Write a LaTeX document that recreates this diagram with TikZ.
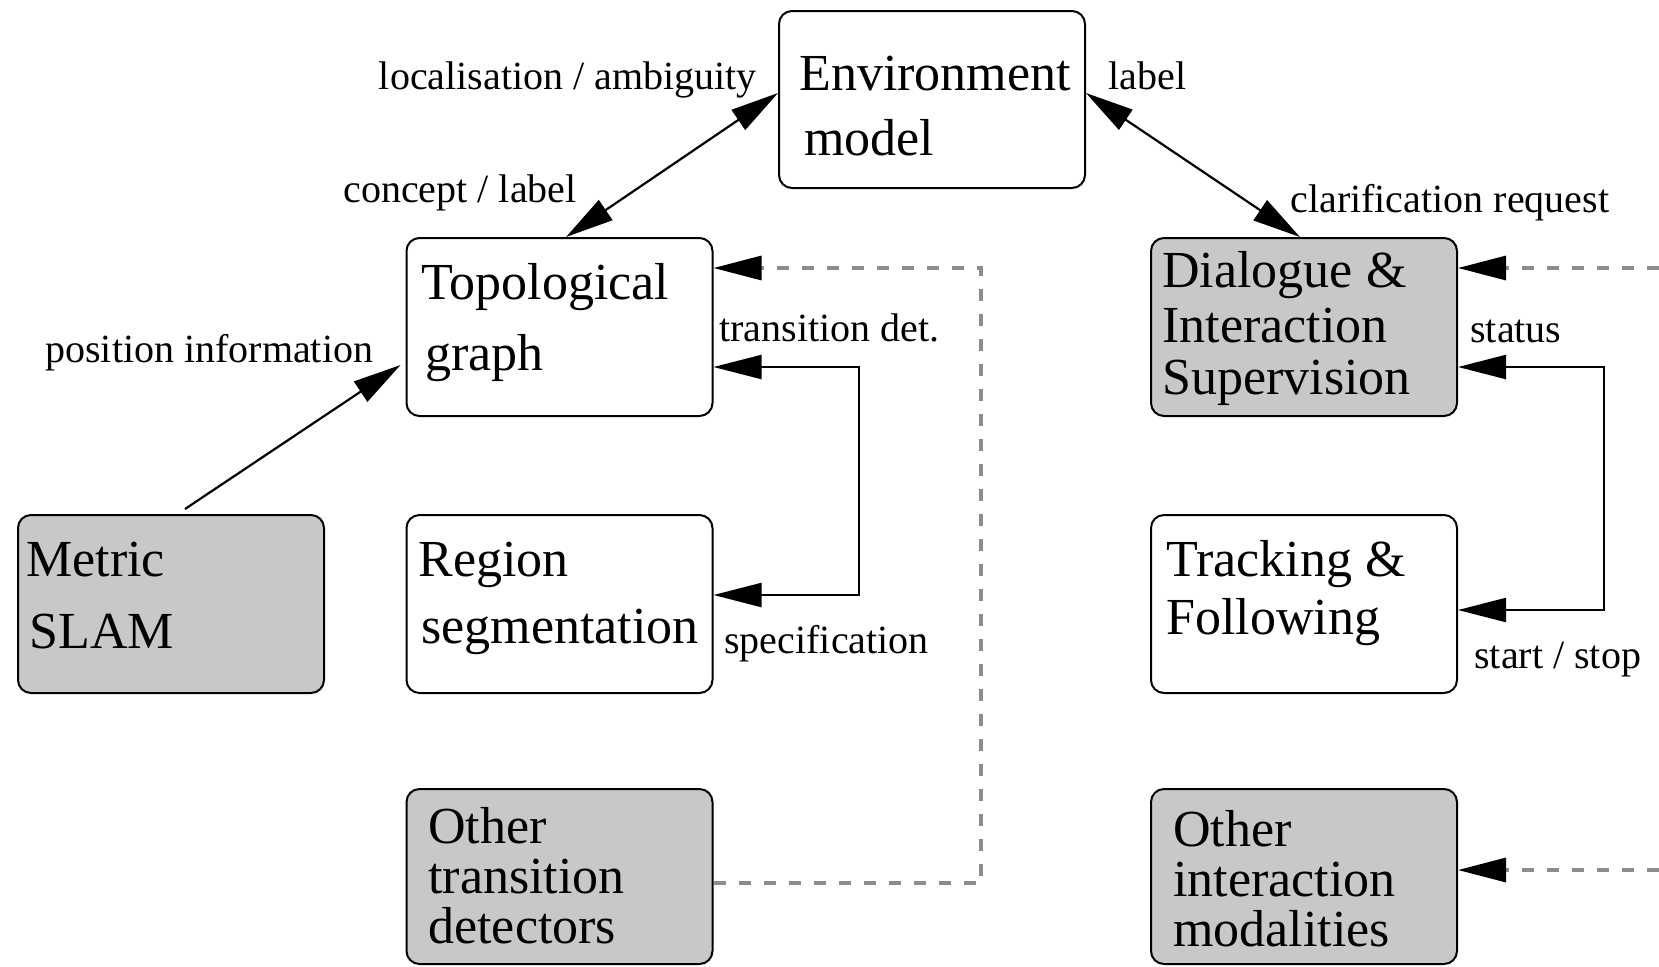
\documentclass[tikz,border=0pt]{standalone}
\usepackage{fontspec}
\setmainfont{Liberation Serif}
\usetikzlibrary{arrows.meta}
\definecolor{boxgray}{RGB}{200,200,200}
\definecolor{dashgray}{RGB}{140,140,140}
\begin{document}
\begin{tikzpicture}[x=0.5pt,y=-0.5pt,
  >={Triangle[length=24pt,width=12pt]},
  box/.style={draw=black, line width=1pt, rounded corners=6.5pt,
    minimum width=153pt, minimum height=89pt, inner sep=0pt},
  plainbox/.style={box, fill=white},
  shadedbox/.style={box, fill=boxgray},
  btxt/.style={anchor=base west, inner sep=0pt, font=\fontsize{26}{30}\selectfont},
  lbl/.style={anchor=base west, inner sep=0pt, font=\fontsize{20}{24}\selectfont},
  lblr/.style={lbl, anchor=base east},
  link/.style={line width=1.1pt},
  dlink/.style={draw=dashgray, line width=1.6pt, dash pattern=on 6pt off 6.5pt},
  dtip/.style={-{Triangle[length=24pt,width=12pt,color=black]}}
]
\fill[white] (0,0) rectangle (1659,966);
\useasboundingbox (0,0) rectangle (1659,966);

% boxes
\node[plainbox, minimum height=88.5pt] (env) at (932,99.5) {};
\node[plainbox] (topo) at (559.5,327) {};
\node[shadedbox] (slam) at (171,604) {};
\node[plainbox] (region) at (559.5,604) {};
\node[shadedbox, minimum height=87.5pt] (otd) at (559.5,876.5) {};
\node[shadedbox] (dial) at (1304,327) {};
\node[plainbox] (track) at (1304,604) {};
\node[shadedbox, minimum height=87.5pt] (oim) at (1304,876.5) {};

% box texts
\node[btxt] (env1) at (799,90) {Environment};
\node[btxt] (env2) at (804,155) {model};
\node[btxt] (topo1) at (421,299) {Topological};
\node[btxt] (topo2) at (425,370) {graph};
\node[btxt] (slam1) at (26,576) {Metric};
\node[btxt] (slam2) at (29,648) {SLAM};
\node[btxt] (reg1) at (418,576) {Region};
\node[btxt] (reg2) at (421,643) {segmentation};
\node[btxt] (otd1) at (428,843) {Other};
\node[btxt] (otd2) at (428,893) {transition};
\node[btxt] (otd3) at (428,943) {detectors};
\node[btxt] (dial1) at (1162,287) {Dialogue \&};
\node[btxt] (dial2) at (1162,342) {Interaction};
\node[btxt] (dial3) at (1162,394) {Supervision};
\node[btxt] (trk1) at (1166,576) {Tracking \&};
\node[btxt] (trk2) at (1166,634) {Following};
\node[btxt] (oim1) at (1173,846) {Other};
\node[btxt] (oim2) at (1173,896) {interaction};
\node[btxt] (oim3) at (1173,946) {modalities};

% connector labels
\node[lblr] (l1) at (757,89) {localisation / ambiguity};
\node[lblr] (l2) at (577,202) {concept / label};
\node[lbl] (l3) at (45,362) {position information};
\node[lbl] (l4) at (1108,89) {label};
\node[lbl] (l5) at (1290,212) {clarification request};
\node[lbl] (l6) at (719,341) {transition det.};
\node[lbl] (l7) at (1470,342) {status};
\node[lbl] (l8) at (724,653) {specification};
\node[lbl] (l9) at (1474,668) {start / stop};

% solid connectors
\draw[link,<->] ([yshift=3.25pt]env.west) -- ([xshift=3.25pt]topo.north);
\draw[link,<->] ([yshift=3.25pt]env.east) -- ([xshift=-2pt]dial.north);
\draw[link,->] ([shift={(7pt,2.5pt)}]slam.north) -- ([shift={(-2.5pt,-19pt)}]topo.west);

\coordinate (tdA) at ([yshift=-20pt]topo.east);
\coordinate (tdB) at ([yshift=4.5pt]region.east);
\coordinate (tdX) at (859,0);
\draw[link,<->] (tdA) -- (tdA -| tdX) -- (tdB -| tdX) -- (tdB);

\coordinate (stA) at ([yshift=-20pt]dial.east);
\coordinate (stB) at ([yshift=-3pt]track.east);
\coordinate (stX) at (1604,0);
\draw[link,<->] (stA) -- (stA -| stX) -- (stB -| stX) -- (stB);

% dashed connectors
\coordinate (odA) at ([yshift=29.5pt]topo.east);
\coordinate (odB) at ([yshift=-3.25pt]otd.east);
\coordinate (odX) at (981,0);
\draw[dlink,dtip] (odB) -- (odB -| odX) -- (odA -| odX) -- (odA);

\coordinate (dIn) at (1659,268);
\draw[dlink,dtip] (dIn) -- ([yshift=29.5pt]dial.east);
\coordinate (oIn) at (1659,870);
\draw[dlink,dtip] (oIn) -- ([yshift=3.25pt]oim.east);
\end{tikzpicture}
\end{document}
